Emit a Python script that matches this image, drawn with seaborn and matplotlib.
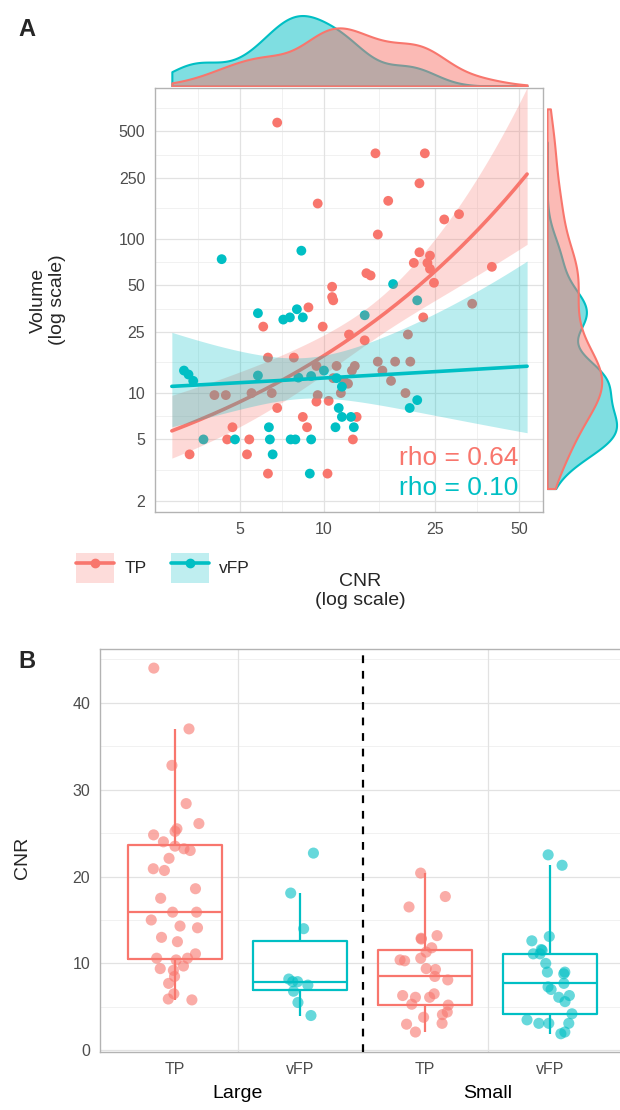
import numpy as np
import pandas as pd
import matplotlib
matplotlib.use("Agg")
import matplotlib.pyplot as plt
import seaborn as sns
from matplotlib.lines import Line2D
from matplotlib.patches import Patch
from matplotlib.legend_handler import HandlerTuple

# ---------------- data: panel A ----------------
groups = ["TP", "vFP"]
palette = {"TP": "#F8766D", "vFP": "#00BFC4"}

tp_cnr = [6.8, 9.5, 10.7, 10.7, 15.3, 23, 22, 17, 15.6, 27, 30.5, 22, 24, 21, 23.5, 24, 24.8,
          14.2, 14.7, 10.8, 40, 34, 22.7, 8.8, 9.9, 12.3, 14, 20, 7.8, 15.6, 18, 20.4, 16.2,
          17.4, 19.6, 12.9, 12.6, 11.5, 13.1, 12.7, 10.3, 6.06, 6.3, 4.05, 4.45, 5.5, 6.5, 6.8,
          9.4, 11.1, 9.5, 9.4, 10.4, 8.4, 8.7, 4.7, 4.5, 5.4, 3.3, 5.3, 6.3, 10.8, 11.8, 12.2]
tp_vol = [570, 170, 49, 42, 360, 360, 230, 177, 107, 134, 145, 82, 78, 70, 70, 64, 52,
          60, 58, 40, 66, 38, 31, 36, 27, 24, 22, 24, 17, 16, 16, 16, 14,
          12, 10, 15, 14, 10, 7, 5, 3, 27, 17, 9.7, 9.7, 10, 10, 8,
          15, 15, 9.7, 8.8, 8.9, 7, 6, 6, 5, 5, 4, 4, 3, 12.5, 12, 11.5]

vfp_cnr = [4.3, 8.3, 17.7, 21.6, 8.0, 7.55, 7.15, 8.4, 14, 5.8, 21.6, 20.3, 11.3, 11.6, 12.5,
           11, 12.8, 5.8, 3.15, 3.27, 3.4, 8.1, 9.0, 10, 6.35, 3.7, 4.8, 6.4, 7.6, 7.9, 9.0,
           6.55, 8.9, 11.1, 11.6]
vfp_vol = [74, 84, 51, 40, 35, 31, 30, 31, 32, 33, 9, 8, 8, 7, 7,
           6, 6, 13, 14, 13.2, 12, 12.6, 12.9, 14, 6, 5, 5, 5, 5, 5, 5,
           4, 3, 12.5, 11]

x_tick_values = [5, 10, 25, 50]
y_tick_values = [2, 5, 10, 25, 50, 100, 250, 500]
rho_labels = {"TP": "rho = 0.64", "vFP": "rho = 0.10"}
x_limits = [2.48, 61]
y_limits = [1.69, 956]
fit_range = [2.85, 53.5]
dens_x_range = [2.85, 53.5]
dens_y_range = [2.4, 700]

# ---------------- data: panel B ----------------
large_tp = [44, 37, 32.8, 28.4, 26.1, 25.5, 25.2, 24.8, 24.0, 23.5, 23.2, 23.0, 22.1, 20.9,
            20.7, 18.6, 17.5, 15.9, 15.9, 15.0, 14.3, 14.1, 13.0, 12.5, 11.1, 10.6, 10.4,
            10.6, 9.7, 9.2, 9.4, 8.5, 7.7, 6.5, 5.9, 5.8]
large_vfp = [22.7, 18.1, 14.0, 8.2, 7.9, 7.9, 7.5, 6.8, 5.5, 4.0]
small_tp = [20.4, 17.7, 16.5, 13.2, 12.9, 12.8, 11.8, 11.3, 10.6, 10.4, 10.3, 9.3, 9.4, 8.5,
            8.1, 6.5, 6.3, 6.1, 6.1, 5.3, 5.2, 4.4, 4.1, 3.8, 3.1, 3.0, 2.1]
small_vfp = [22.5, 21.3, 13.1, 12.6, 11.5, 11.6, 11.1, 11.1, 10.0, 9.0, 8.8, 9.0, 7.0, 7.3,
             7.7, 6.3, 6.1, 5.6, 4.2, 3.5, 3.1, 3.1, 3.1, 2.1, 1.9]
b_categories = ["Large TP", "Large vFP", "Small TP", "Small vFP"]
b_tick_labels = ["TP", "vFP", "TP", "vFP"]
b_sizes = ["Large", "Small"]
b_yticks = [0, 10, 20, 30, 40]

# ---------------- style ----------------
sns.set_style("white")
plt.rcParams["font.family"] = ["Liberation Sans", "DejaVu Sans"]
GRID_MAJ = "#E2E2E2"
GRID_MIN = "#EFEFEF"
BORDER = "#B3B3B3"
TICKLAB = "#4D4D4D"


def minor_breaks(major, lims):
    b = list(major)
    if lims[0] < b[0]:
        b = [b[0] - (b[1] - b[0])] + b
    if lims[1] > b[-1]:
        b = b + [b[-1] + (b[-1] - b[-2])]
    out = [(a + c) / 2 for a, c in zip(b[:-1], b[1:])]
    return [m for m in out if lims[0] <= m <= lims[1]]


def style_panel(ax):
    for s in ax.spines.values():
        s.set_color(BORDER)
        s.set_linewidth(1.0)
    ax.tick_params(axis="both", which="major", length=4, width=0.8, color=BORDER,
                   labelcolor=TICKLAB, labelsize=11.5, pad=3)


def glm_log_fit(lx, ly, grid_lx, t=2.0):
    """Gaussian GLM with log link (ly ~ lx), delta-method band on the link scale."""
    b = np.polyfit(lx, np.log(ly), 1)[::-1].copy()
    for _ in range(100):
        mu = np.exp(b[0] + b[1] * lx)
        J = np.column_stack([mu, mu * lx])
        step = np.linalg.lstsq(J, ly - mu, rcond=None)[0]
        b += step
        if np.max(np.abs(step)) < 1e-10:
            break
    mu = np.exp(b[0] + b[1] * lx)
    J = np.column_stack([mu, mu * lx])
    sigma2 = np.sum((ly - mu) ** 2) / (len(lx) - 2)
    V = sigma2 * np.linalg.inv(J.T @ J)
    G = np.column_stack([np.ones_like(grid_lx), grid_lx])
    eta = G @ b
    se = np.sqrt(np.einsum("ij,jk,ik->i", G, V, G))
    return np.exp(eta), np.exp(eta - t * se), np.exp(eta + t * se)


df_a = pd.DataFrame({
    "cnr": tp_cnr + vfp_cnr,
    "vol": tp_vol + vfp_vol,
    "type": ["TP"] * len(tp_cnr) + ["vFP"] * len(vfp_cnr),
})
df_a["lx"] = np.log10(df_a["cnr"])
df_a["ly"] = np.log10(df_a["vol"])

W, H = 620, 1110
fig = plt.figure(figsize=(W / 100, H / 100), dpi=100)


def rect(x0, y0, x1, y1):
    return [x0 / W, 1 - y1 / H, (x1 - x0) / W, (y1 - y0) / H]


ax = fig.add_axes(rect(155, 88, 543, 512))
ax_top = fig.add_axes(rect(155, 12, 543, 86))
ax_right = fig.add_axes(rect(547, 88, 620, 512))

xl = np.log10(x_limits)
yl = np.log10(y_limits)
xmaj = list(np.log10(x_tick_values))
ymaj = list(np.log10(y_tick_values))

for m in minor_breaks(xmaj, xl):
    ax.axvline(m, color=GRID_MIN, lw=0.6, zorder=0)
for m in minor_breaks(ymaj, yl):
    ax.axhline(m, color=GRID_MIN, lw=0.6, zorder=0)
for m in xmaj:
    ax.axvline(m, color=GRID_MAJ, lw=0.9, zorder=0)
for m in ymaj:
    ax.axhline(m, color=GRID_MAJ, lw=0.9, zorder=0)

sns.scatterplot(data=df_a, x="lx", y="ly", hue="type", palette=palette, hue_order=groups,
                s=50, linewidth=0, alpha=1, legend=False, ax=ax, zorder=2)

grid_lx = np.linspace(np.log10(fit_range[0]), np.log10(fit_range[1]), 200)
fits = []
for g in groups:
    sub = df_a[df_a["type"] == g]
    fit, lo, hi = glm_log_fit(sub["lx"].values, sub["ly"].values, grid_lx)
    fits.append(pd.DataFrame({"lx": grid_lx, "fit": fit, "lo": lo, "hi": hi, "type": g}))
df_fit = pd.concat(fits, ignore_index=True)

for i, g in enumerate(groups):
    f = df_fit[df_fit["type"] == g]
    ax.fill_between(f["lx"], f["lo"], f["hi"], color=palette[g], alpha=0.27, linewidth=0,
                    zorder=3 + 2 * i)
    sns.lineplot(data=f, x="lx", y="fit", color=palette[g], lw=2.6, ax=ax, zorder=4 + 2 * i)

ax.set_xlim(xl)
ax.set_ylim(yl)
ax.set_xticks(xmaj)
ax.set_xticklabels([str(v) for v in x_tick_values])
ax.set_yticks(ymaj)
ax.set_yticklabels([str(v) for v in y_tick_values])
ax.set_xlabel("")
ax.set_ylabel("")
style_panel(ax)

ax.text(0.936, 0.127, rho_labels["TP"], transform=ax.transAxes, ha="right", va="center",
        fontsize=19, color=palette["TP"], zorder=8)
ax.text(0.936, 0.057, rho_labels["vFP"], transform=ax.transAxes, ha="right", va="center",
        fontsize=19, color=palette["vFP"], zorder=8)

sns.kdeplot(data=df_a, x="lx", hue="type", palette=palette, hue_order=groups, fill=True,
            alpha=0.5, common_norm=False, cut=5, clip=tuple(np.log10(dens_x_range)),
            bw_adjust=0.8, linewidth=1.5, legend=False, ax=ax_top)
ax_top.set_xlim(xl)
ax_top.set_ylim(bottom=0)
ax_top.axis("off")

sns.kdeplot(data=df_a, y="ly", hue="type", palette=palette, hue_order=groups, fill=True,
            alpha=0.5, common_norm=False, cut=5, clip=tuple(np.log10(dens_y_range)),
            bw_adjust=0.75, linewidth=1.5, legend=False, ax=ax_right)
ax_right.set_ylim(yl)
ax_right.set_xlim(left=0)
ax_right.axis("off")

fig.text(18 / W, 1 - 30 / H, "A", fontsize=17, fontweight="bold", ha="left", va="center")
fig.text(48 / W, 1 - 300 / H, "Volume\n(log scale)", rotation=90, ha="center", va="center",
         fontsize=14, linespacing=1.1)
fig.text(360 / W, 1 - 591 / H, "CNR\n(log scale)", ha="center", va="center", fontsize=14,
         linespacing=1.1)

handles = [(Patch(facecolor=palette[g], alpha=0.25, edgecolor="none"),
            Line2D([], [], color=palette[g], lw=2.6, marker="o", ms=6)) for g in groups]
fig.legend(handles=handles, labels=groups, handler_map={tuple: HandlerTuple(ndivide=1)},
           loc="center left", bbox_to_anchor=(60 / W, 1 - 568 / H), ncol=2, frameon=False,
           handlelength=2.2, handleheight=2.2, columnspacing=1.4, handletextpad=0.6,
           fontsize=12.5)

# ---------------- panel B ----------------
vals = [large_tp, large_vfp, small_tp, small_vfp]
types = ["TP", "vFP", "TP", "vFP"]
rows = []
for cat, t, v in zip(b_categories, types, vals):
    for x in v:
        rows.append({"cat": cat, "type": t, "CNR": x})
df_b = pd.DataFrame(rows)

axb = fig.add_axes(rect(100, 649, 625, 1052))
for m in [5, 15, 25, 35, 45]:
    axb.axhline(m, color=GRID_MIN, lw=0.6, zorder=0)
for m in b_yticks:
    axb.axhline(m, color=GRID_MAJ, lw=0.9, zorder=0)
for m in [0.5, 2.5]:
    axb.axvline(m, color=GRID_MAJ, lw=0.9, zorder=0)

sns.boxplot(data=df_b, x="cat", y="CNR", hue="type", order=b_categories, hue_order=groups,
            palette=palette, dodge=False, fill=False, width=0.75, showfliers=False,
            showcaps=False, linewidth=1.6, legend=False, ax=axb)
np.random.seed(7)
sns.stripplot(data=df_b, x="cat", y="CNR", hue="type", order=b_categories, hue_order=groups,
              palette=palette, dodge=False, jitter=0.2, size=8, alpha=0.6, linewidth=0,
              legend=False, ax=axb, zorder=5)
axb.axvline(1.5, color="black", lw=1.6, ls=(0, (3.5, 3.5)), zorder=6)

axb.set_xlim(-0.6, 3.6)
axb.set_ylim(-0.2, 46.2)
axb.set_yticks(b_yticks)
axb.set_xticks(range(4))
axb.set_xticklabels(b_tick_labels)
axb.set_xlabel("")
axb.set_ylabel("")
style_panel(axb)
for pos, lab in zip([0.5, 2.5], b_sizes):
    axb.text(pos, -0.102, lab, transform=axb.get_xaxis_transform(), ha="center", va="center",
             fontsize=14, color="black")

fig.text(18 / W, 1 - 662 / H, "B", fontsize=17, fontweight="bold", ha="left", va="center")
fig.text(22 / W, 1 - 858 / H, "CNR", rotation=90, ha="center", va="center", fontsize=14)

fig.savefig("out.png", dpi=100)
